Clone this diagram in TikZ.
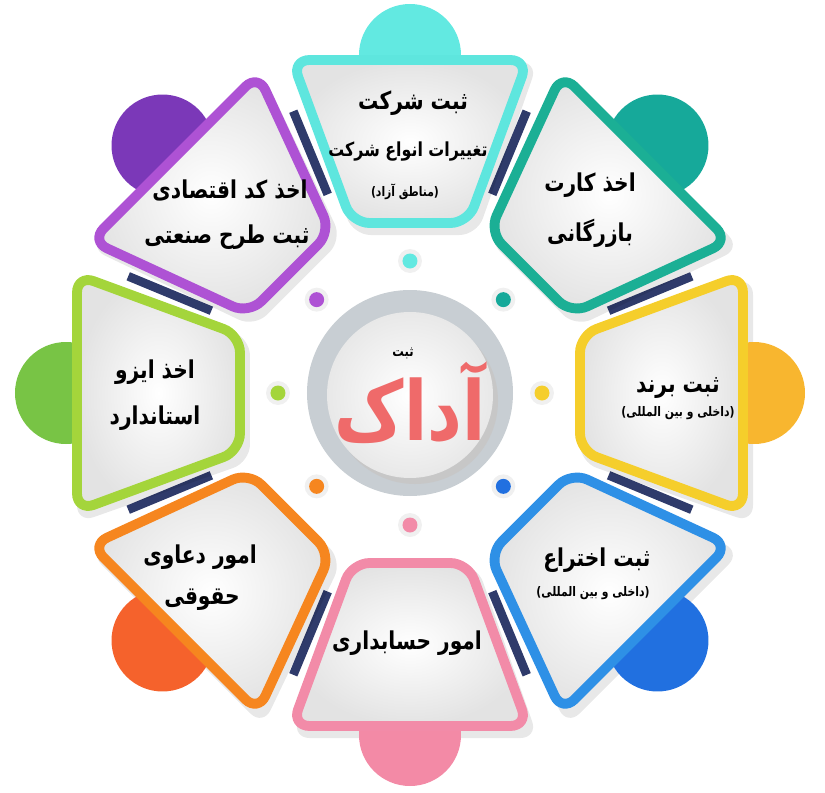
\documentclass[tikz,border=0pt]{standalone}
\usepackage{fontspec}
\usetikzlibrary{positioning}
\TeXXeTstate=1
\newfontfamily\parsifont[Script=Arabic,FakeStretch=0.82]{DejaVu Sans}
\newcommand{\fa}[1]{\beginR #1\endR}
\definecolor{cyanA}{HTML}{5EE6DE}
\definecolor{cyanB}{HTML}{62E9E1}
\definecolor{tealA}{HTML}{1BAF95}
\definecolor{tealB}{HTML}{16A99A}
\definecolor{yellowA}{HTML}{F5CE2B}
\definecolor{yellowB}{HTML}{F8B62F}
\definecolor{blueA}{HTML}{2E90E6}
\definecolor{blueB}{HTML}{2170E0}
\definecolor{pinkA}{HTML}{F28BA8}
\definecolor{pinkB}{HTML}{F38AA6}
\definecolor{orangeA}{HTML}{F6861F}
\definecolor{orangeB}{HTML}{F5622C}
\definecolor{limeA}{HTML}{A4D53B}
\definecolor{limeB}{HTML}{78C445}
\definecolor{purpA}{HTML}{AE52D4}
\definecolor{purpB}{HTML}{7B38B8}
\definecolor{ringgray}{HTML}{C8CED3}
\definecolor{barnavy}{HTML}{2F3B6B}
\definecolor{adak}{HTML}{EF6A6A}
\tikzset{
  head/.style={font=\parsifont\bfseries\fontsize{14}{17}\selectfont, inner sep=0pt},
  subhead/.style={font=\parsifont\bfseries\fontsize{11}{13}\selectfont, inner sep=0pt},
  note/.style={font=\parsifont\bfseries\fontsize{7.5}{9}\selectfont, inner sep=0pt},
  panel/.style={line width=5.6pt, rounded corners=10pt, inner color=white, outer color=gray!22},
  gapbar/.style={line width=5pt, barnavy},
}

\begin{document}
\begin{tikzpicture}[x=0.02cm,y=0.02cm]
\useasboundingbox (-410,-399) rectangle (415,393);

\foreach \ang in {22.5,67.5,...,337.5}
  \draw[gapbar] (\ang:215) -- (\ang:305);

\foreach \ang in {90,45,...,-225} {
  \begin{scope}[shift={(5,-7)},rotate=\ang-90]
    \fill[black,opacity=0.09,rounded corners=10pt] (-62,165) -- (62,165) -- (123,338) -- (-123,338) -- cycle;
  \end{scope}
}

\foreach \ang/\ca/\cb/\rr in {90/cyanA/cyanB/338, 45/tealA/tealB/350, 0/yellowA/yellowB/344, -45/blueA/blueB/350,
    -90/pinkA/pinkB/342, -135/orangeA/orangeB/350, 180/limeA/limeB/344, 135/purpA/purpB/350} {
  \begin{scope}[rotate=\ang-90]
    \fill[\cb] (0,\rr) circle (51);
    \shade[panel,draw=\ca] (-58,170) -- (58,170) -- (118,333) -- (-118,333) -- cycle;
  \end{scope}
}

\foreach \ang/\c in {90/cyanB, 45/tealB, 0/yellowA, -45/blueB, -90/pinkA, -135/orangeA, 180/limeA, 135/purpA} {
  \fill[gray!12] (\ang:132) circle (12);
  \fill[\c] (\ang:132) circle (7.5);
}

\fill[ringgray] (0,0) circle (103);
\fill[black!22] (5,-8) circle (83);
\shade[inner color=white, outer color=gray!18] (0,-2) circle (83);

\draw(-7,40) node[font=\parsifont\bfseries\fontsize{8}{10}\selectfont, inner sep=0pt] (sabt) {\fa{ثبت}};
\draw(0,-10) node[font=\parsifont\bfseries\fontsize{47}{50}\selectfont, text=adak, inner sep=0pt] (adak) {\fa{آداک}};

\draw(3,290) node[head] (sherkat) {\fa{ثبت شرکت}};
\draw(-2,241) node[subhead] (taghyir) {\fa{تغییرات انواع شرکت}};
\draw(-5,201) node[note] (azad) {\fa{(مناطق آزاد)}};

\draw(180,208) node[head] (kart) {\fa{اخذ کارت}};
\draw(180,160) node[head] (bazargani) {\fa{بازرگانی}};

\draw(268,5) node[head] (brand) {\fa{ثبت برند}};
\draw(268,-20) node[note] (brandnote) {\fa{(داخلی و بین المللی)}};

\draw(187,-167) node[head] (ekhtera) {\fa{ثبت اختراع}};
\draw(183,-200) node[note] (ekhteranote) {\fa{(داخلی و بین المللی)}};

\draw(-3,-250) node[head] (hesab) {\fa{امور حسابداری}};

\draw(-210,-164) node[head] (daavi) {\fa{امور دعاوی}};
\draw(-208,-207) node[head] (hoghughi) {\fa{حقوقی}};

\draw(-255,21) node[head] (iso) {\fa{اخذ ایزو}};
\draw(-255,-25) node[head] (standard) {\fa{استاندارد}};

\draw(-180,203) node[head] (eghtesadi) {\fa{اخذ کد اقتصادی}};
\draw(-183,156) node[head] (sanati) {\fa{ثبت طرح صنعتی}};
\end{tikzpicture}
\end{document}
